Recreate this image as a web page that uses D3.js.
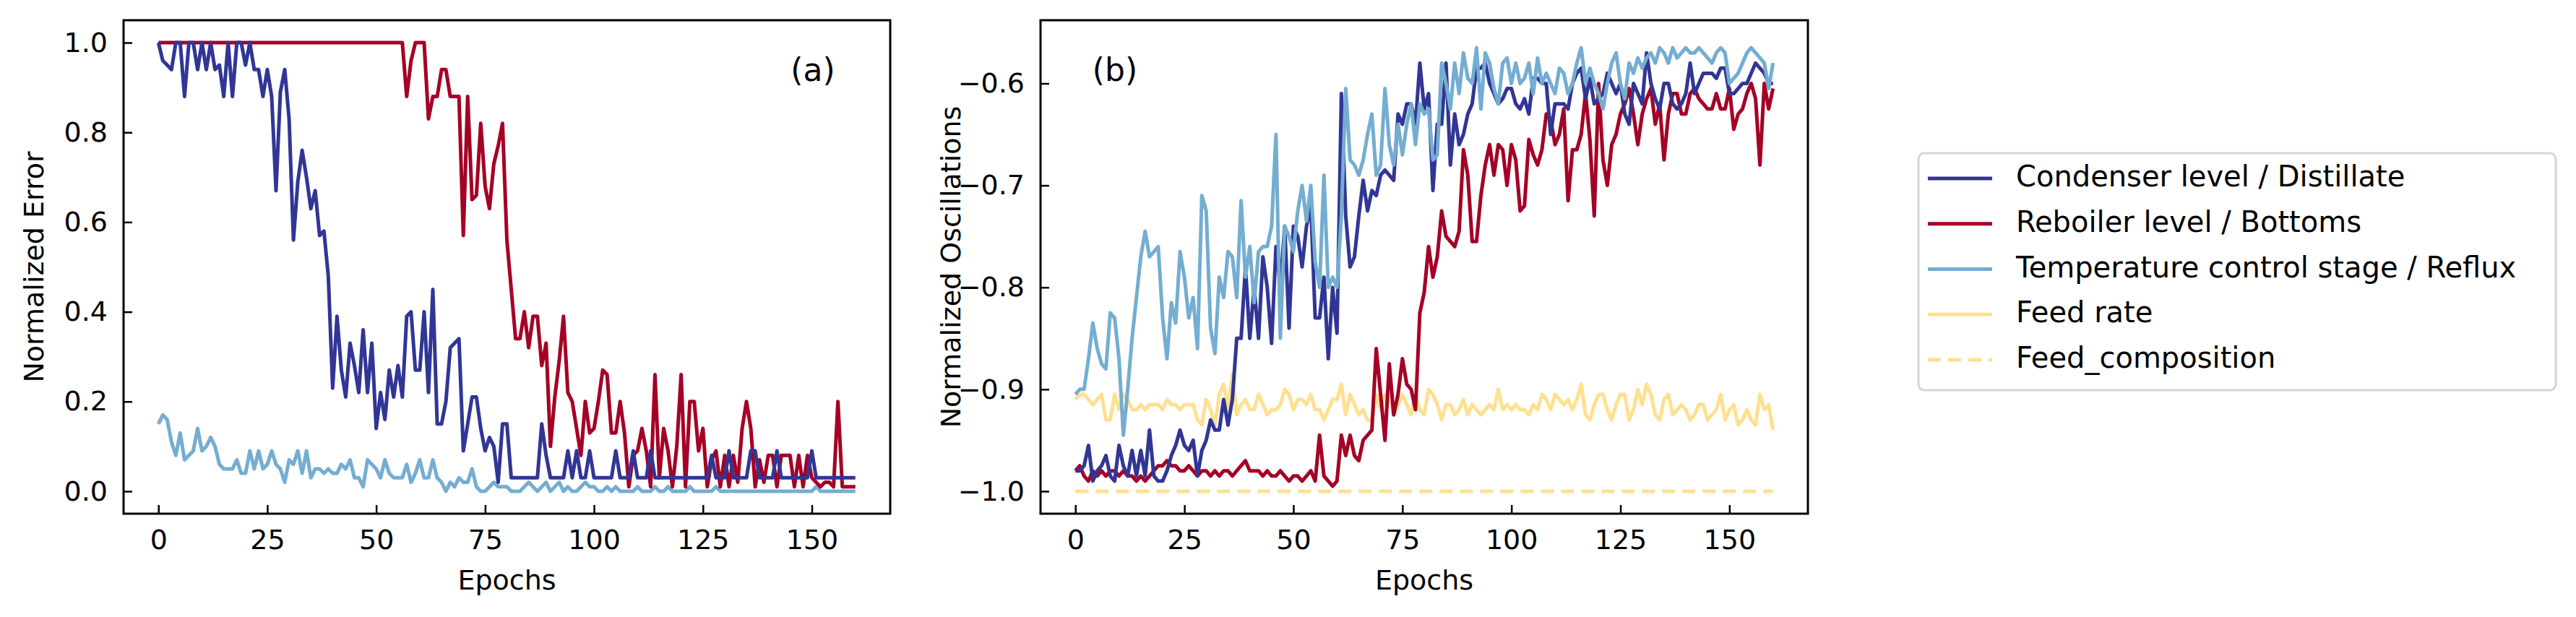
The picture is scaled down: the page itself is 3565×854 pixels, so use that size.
<!DOCTYPE html>
<html lang="en">
<head>
<meta charset="UTF-8">
<script src="https://d3js.org/d3.v7.min.js"></script>
<style>
  body { margin: 0; overflow: hidden; background: white; }
  text { font-family: "DejaVu Sans", sans-serif; fill: black; }
</style>
</head>
<body>
<script>
const width = 3565, height = 854;

const epochs = d3.range(0, 161);
const xTicks = [0, 25, 50, 75, 100, 125, 150];
const yTicksA = [0, 0.2, 0.4, 0.6, 0.8, 1.0];
const yTicksB = [-1.0, -0.9, -0.8, -0.7, -0.6];

const labels = ["Condenser level / Distillate", "Reboiler level / Bottoms",
  "Temperature control stage / Reflux", "Feed rate", "Feed_composition"];
const colors = ["#313695", "#a50026", "#74add1", "#fee090", "#fee090"];

// panel (a) normalized error
const errCondenser = [
  1.0,0.96,0.95,0.94,1.0,1.0,0.88,1.0,1.0,0.94,
  1.0,0.94,1.0,0.94,0.95,0.88,1.0,0.88,1.0,1.0,
  0.95,1.0,0.94,0.94,0.88,0.94,0.88,0.67,0.89,0.94,
  0.83,0.56,0.69,0.76,0.70,0.63,0.67,0.57,0.58,0.48,
  0.23,0.39,0.27,0.21,0.33,0.28,0.22,0.36,0.22,0.33,
  0.14,0.22,0.16,0.27,0.21,0.28,0.21,0.39,0.40,0.27,
  0.27,0.40,0.22,0.45,0.15,0.15,0.20,0.32,0.33,0.34,
  0.09,0.15,0.21,0.21,0.14,0.09,0.12,0.10,0.02,0.15,
  0.15,0.03,0.03,0.03,0.03,0.03,0.03,0.03,0.15,0.08,
  0.03,0.03,0.03,0.03,0.09,0.03,0.09,0.03,0.03,0.09,
  0.03,0.03,0.03,0.03,0.03,0.09,0.03,0.03,0.03,0.09,
  0.03,0.03,0.03,0.09,0.03,0.03,0.03,0.03,0.03,0.03,
  0.03,0.03,0.03,0.03,0.03,0.03,0.03,0.08,0.03,0.03,
  0.03,0.09,0.03,0.03,0.03,0.03,0.09,0.09,0.03,0.03,
  0.03,0.03,0.09,0.03,0.03,0.03,0.03,0.03,0.03,0.03,
  0.09,0.03,0.03,0.03,0.03,0.03,0.03,0.03,0.03,0.03,0.03];
const errReboiler = [
  1,1,1,1,1,1,1,1,1,1, 1,1,1,1,1,1,1,1,1,1,
  1,1,1,1,1,1,1,1,1,1, 1,1,1,1,1,1,1,1,1,1,
  1,1,1,1,1,1,1,1,1,1, 1,1,1,1,1,1,1.0,0.88,0.96,1.0,
  1.0,1.0,0.83,0.88,0.88,0.94,0.94,0.88,0.88,0.88,
  0.57,0.88,0.65,0.66,0.82,0.68,0.63,0.73,0.77,0.82,
  0.56,0.45,0.34,0.34,0.40,0.32,0.39,0.39,0.28,0.33,
  0.10,0.21,0.29,0.39,0.22,0.20,0.14,0.08,0.20,0.13,
  0.14,0.20,0.27,0.26,0.13,0.13,0.20,0.13,0.01,0.08,
  0.09,0.14,0.09,0.01,0.26,0.03,0.14,0.09,0.01,0.10,
  0.26,0.01,0.20,0.20,0.09,0.14,0.01,0.07,0.09,0.01,
  0.08,0.01,0.08,0.02,0.14,0.20,0.14,0.01,0.07,0.02,
  0.08,0.08,0.01,0.08,0.08,0.08,0.01,0.08,0.01,0.08,
  0.03,0.02,0.01,0.02,0.02,0.01,0.20,0.01,0.01,0.01,0.01];
const errReflux = [
  0.15,0.17,0.16,0.11,0.08,0.13,0.07,0.08,0.09,0.14,
  0.09,0.10,0.12,0.10,0.06,0.05,0.05,0.05,0.07,0.04,
  0.04,0.09,0.05,0.09,0.05,0.06,0.09,0.06,0.05,0.02,
  0.07,0.06,0.09,0.04,0.09,0.03,0.05,0.05,0.04,0.05,
  0.04,0.04,0.06,0.05,0.07,0.03,0.03,0.01,0.07,0.06,
  0.05,0.03,0.07,0.04,0.03,0.03,0.03,0.06,0.02,0.04,
  0.07,0.03,0.03,0.07,0.03,0.02,0.00,0.02,0.01,0.03,
  0.02,0.02,0.05,0.01,0.00,0.00,0.01,0.02,0.01,0.01,
  0.01,0.00,0.00,0.00,0.01,0.02,0.01,0.00,0.01,0.02,
  0.00,0.01,0.02,0.00,0.01,0.00,0.00,0.01,0.02,0.01,
  0.01,0.00,0.00,0.01,0.00,0.01,0.00,0.00,0.00,0.00,
  0.01,0.00,0.00,0.00,0.01,0.00,0.00,0.01,0.00,0.00,
  0.00,0.00,0.01,0.00,0.00,0.00,0.00,0.00,0.01,0.00,
  0.00,0.00,0.00,0.00,0.00,0.00,0.00,0.00,0.00,0.00,
  0.00,0.00,0.00,0.00,0.00,0.00,0.00,0.00,0.00,0.00,
  0.00,0.01,0.00,0.00,0.00,0.00,0.00,0.00,0.00,0.00,0.00];

// panel (b) normalized oscillations
const oscCondenser = [
  -0.98,-0.98,-0.975,-0.955,-0.99,-0.98,-0.975,-0.965,-0.985,-0.99,
  -0.955,-0.975,-0.985,-0.96,-0.985,-0.96,-0.985,-0.94,-0.985,-0.99,
  -0.99,-0.98,-0.965,-0.955,-0.94,-0.955,-0.96,-0.95,-0.985,-0.96,
  -0.95,-0.93,-0.94,-0.94,-0.91,-0.935,-0.91,-0.85,-0.85,-0.78,
  -0.85,-0.80,-0.85,-0.77,-0.80,-0.855,-0.76,-0.80,-0.74,-0.84,
  -0.74,-0.75,-0.78,-0.74,-0.72,-0.83,-0.83,-0.79,-0.87,-0.80,
  -0.845,-0.61,-0.73,-0.78,-0.77,-0.73,-0.695,-0.725,-0.705,-0.71,
  -0.69,-0.685,-0.69,-0.695,-0.63,-0.64,-0.62,-0.62,-0.64,-0.58,
  -0.625,-0.61,-0.705,-0.64,-0.64,-0.58,-0.68,-0.63,-0.66,-0.65,
  -0.63,-0.62,-0.585,-0.585,-0.58,-0.6,-0.61,-0.62,-0.615,-0.605,
  -0.605,-0.62,-0.625,-0.615,-0.63,-0.595,-0.595,-0.6,-0.6,-0.65,
  -0.62,-0.62,-0.62,-0.625,-0.6,-0.59,-0.585,-0.615,-0.595,-0.62,
  -0.615,-0.61,-0.59,-0.6,-0.61,-0.6,-0.63,-0.64,-0.60,-0.61,
  -0.62,-0.57,-0.6,-0.615,-0.625,-0.6,-0.6,-0.62,-0.625,-0.62,
  -0.61,-0.58,-0.61,-0.6,-0.59,-0.59,-0.59,-0.595,-0.585,-0.585,
  -0.61,-0.61,-0.605,-0.6,-0.6,-0.59,-0.58,-0.585,-0.59,-0.6,-0.6];
const oscReboiler = [
  -0.98,-0.975,-0.985,-0.99,-0.98,-0.985,-0.98,-0.985,-0.98,-0.98,
  -0.985,-0.98,-0.985,-0.985,-0.99,-0.985,-0.99,-0.985,-0.98,-0.975,
  -0.975,-0.97,-0.975,-0.975,-0.98,-0.98,-0.975,-0.98,-0.985,-0.98,
  -0.98,-0.985,-0.98,-0.985,-0.98,-0.98,-0.985,-0.98,-0.975,-0.97,
  -0.98,-0.98,-0.98,-0.985,-0.98,-0.985,-0.985,-0.98,-0.985,-0.99,
  -0.985,-0.985,-0.99,-0.985,-0.98,-0.99,-0.945,-0.985,-0.99,-0.995,
  -0.99,-0.945,-0.965,-0.945,-0.965,-0.97,-0.95,-0.945,-0.94,-0.86,
  -0.905,-0.95,-0.875,-0.925,-0.905,-0.87,-0.895,-0.9,-0.92,-0.825,
  -0.805,-0.76,-0.79,-0.77,-0.725,-0.75,-0.755,-0.76,-0.745,-0.665,
  -0.69,-0.755,-0.755,-0.71,-0.68,-0.66,-0.69,-0.66,-0.665,-0.7,
  -0.66,-0.675,-0.725,-0.72,-0.655,-0.67,-0.68,-0.665,-0.63,-0.635,
  -0.66,-0.65,-0.625,-0.715,-0.665,-0.665,-0.65,-0.61,-0.655,-0.73,
  -0.6,-0.675,-0.7,-0.66,-0.65,-0.63,-0.62,-0.605,-0.63,-0.66,
  -0.63,-0.615,-0.605,-0.64,-0.62,-0.675,-0.63,-0.61,-0.61,-0.63,
  -0.63,-0.61,-0.605,-0.615,-0.62,-0.625,-0.625,-0.61,-0.625,-0.625,
  -0.605,-0.645,-0.63,-0.625,-0.61,-0.6,-0.615,-0.68,-0.6,-0.625,-0.605];
const oscReflux = [
  -0.905,-0.9,-0.9,-0.87,-0.835,-0.86,-0.875,-0.88,-0.825,-0.83,
  -0.87,-0.945,-0.9,-0.85,-0.81,-0.77,-0.745,-0.77,-0.765,-0.76,
  -0.83,-0.87,-0.815,-0.835,-0.765,-0.79,-0.83,-0.81,-0.86,-0.71,
  -0.725,-0.84,-0.865,-0.79,-0.81,-0.765,-0.77,-0.81,-0.715,-0.79,
  -0.76,-0.815,-0.765,-0.76,-0.76,-0.74,-0.65,-0.85,-0.74,-0.75,
  -0.765,-0.725,-0.70,-0.735,-0.70,-0.775,-0.80,-0.69,-0.80,-0.79,
  -0.80,-0.73,-0.605,-0.675,-0.68,-0.69,-0.675,-0.65,-0.63,-0.69,
  -0.68,-0.605,-0.66,-0.68,-0.64,-0.67,-0.64,-0.62,-0.66,-0.62,
  -0.63,-0.625,-0.675,-0.67,-0.58,-0.6,-0.625,-0.58,-0.61,-0.57,
  -0.595,-0.6,-0.565,-0.625,-0.57,-0.58,-0.605,-0.62,-0.58,-0.575,
  -0.6,-0.58,-0.6,-0.595,-0.58,-0.61,-0.575,-0.6,-0.59,-0.6,
  -0.61,-0.585,-0.59,-0.61,-0.6,-0.58,-0.565,-0.6,-0.585,-0.6,
  -0.61,-0.625,-0.6,-0.58,-0.57,-0.6,-0.615,-0.58,-0.59,-0.575,
  -0.585,-0.575,-0.57,-0.58,-0.565,-0.57,-0.58,-0.565,-0.575,-0.57,
  -0.565,-0.57,-0.57,-0.565,-0.57,-0.575,-0.58,-0.57,-0.565,-0.57,
  -0.6,-0.595,-0.59,-0.58,-0.57,-0.565,-0.57,-0.575,-0.58,-0.605,-0.58];
const oscFeedRate = [
  -0.91,-0.905,-0.905,-0.91,-0.915,-0.91,-0.905,-0.93,-0.93,-0.905,
  -0.92,-0.905,-0.91,-0.92,-0.92,-0.915,-0.92,-0.915,-0.915,-0.915,
  -0.92,-0.91,-0.915,-0.915,-0.92,-0.915,-0.915,-0.915,-0.93,-0.935,
  -0.91,-0.92,-0.935,-0.905,-0.895,-0.92,-0.885,-0.925,-0.915,-0.91,
  -0.92,-0.92,-0.905,-0.915,-0.925,-0.92,-0.92,-0.915,-0.9,-0.905,
  -0.92,-0.91,-0.91,-0.915,-0.905,-0.92,-0.92,-0.93,-0.92,-0.91,
  -0.91,-0.895,-0.925,-0.905,-0.915,-0.925,-0.92,-0.93,-0.93,-0.905,
  -0.92,-0.905,-0.905,-0.925,-0.915,-0.905,-0.915,-0.925,-0.905,-0.92,
  -0.925,-0.9,-0.905,-0.915,-0.93,-0.915,-0.915,-0.925,-0.92,-0.91,
  -0.925,-0.915,-0.92,-0.925,-0.92,-0.915,-0.92,-0.9,-0.92,-0.915,
  -0.92,-0.915,-0.92,-0.92,-0.925,-0.915,-0.92,-0.905,-0.91,-0.92,
  -0.905,-0.91,-0.915,-0.91,-0.92,-0.91,-0.895,-0.925,-0.93,-0.915,
  -0.905,-0.905,-0.92,-0.93,-0.915,-0.905,-0.905,-0.93,-0.92,-0.9,
  -0.915,-0.895,-0.905,-0.925,-0.93,-0.91,-0.905,-0.925,-0.92,-0.915,
  -0.92,-0.93,-0.925,-0.915,-0.915,-0.93,-0.925,-0.92,-0.905,-0.93,
  -0.92,-0.915,-0.935,-0.93,-0.92,-0.93,-0.935,-0.905,-0.92,-0.915,-0.94];
const oscFeedComp = epochs.map(() => -1.0);

const svg = d3.select('body').append('svg')
  .attr('width', width).attr('height', height);

function panel(box, yDomain, yTicks, yFmt, yLabel, tag, tagX, series) {
  const x = d3.scaleLinear().domain([-8, 168]).range([box.l, box.r]);
  const y = d3.scaleLinear().domain(yDomain).range([box.b, box.t]);
  const g = svg.append('g');

  const line = d3.line().x((d, i) => x(epochs[i])).y(d => y(d));
  series.forEach(s => {
    g.append('path').datum(s.values)
      .attr('fill', 'none').attr('stroke', s.color)
      .attr('stroke-width', 5).attr('stroke-linejoin', 'round')
      .attr('stroke-dasharray', s.dash || null)
      .attr('d', line);
  });

  const xAxis = g.append('g').attr('transform', `translate(0,${box.b})`)
    .call(d3.axisBottom(x).tickValues(xTicks).tickSizeInner(-12).tickSizeOuter(0).tickPadding(22));
  const yAxis = g.append('g').attr('transform', `translate(${box.l},0)`)
    .call(d3.axisLeft(y).tickValues(yTicks).tickFormat(d3.format(yFmt)).tickSizeInner(-12).tickSizeOuter(0).tickPadding(22));
  [xAxis, yAxis].forEach(a => {
    a.select('.domain').remove();
    a.selectAll('line').attr('stroke', 'black').attr('stroke-width', 2.5);
    a.selectAll('text').style('font-size', '38px').style('font-family', '"DejaVu Sans", sans-serif');
  });

  g.append('rect').attr('x', box.l).attr('y', box.t)
    .attr('width', box.r - box.l).attr('height', box.b - box.t)
    .attr('fill', 'none').attr('stroke', 'black').attr('stroke-width', 3);

  g.append('text').attr('x', (box.l + box.r) / 2).attr('y', 816)
    .attr('text-anchor', 'middle').style('font-size', '38px').text('Epochs');
  g.append('text')
    .attr('transform', `translate(${box.l - 122},${(box.t + box.b) / 2}) rotate(-90)`)
    .attr('text-anchor', 'middle').attr('dominant-baseline', 'middle')
    .style('font-size', '38px').text(yLabel);
  g.append('text').attr('x', tagX).attr('y', 112)
    .attr('text-anchor', 'middle').style('font-size', '44px').text(tag);
}

panel({l: 171, r: 1232, t: 28, b: 711}, [-0.05, 1.05], yTicksA, '.1f',
  'Normalized Error', '(a)', 1125, [
    {values: errReflux, color: colors[2]},
    {values: errReboiler, color: colors[1]},
    {values: errCondenser, color: colors[0]}
  ]);

panel({l: 1440, r: 2502, t: 28, b: 711}, [-1.022, -0.538], yTicksB, '.1f',
  'Normalized Oscillations', '(b)', 1543, [
    {values: oscFeedComp, color: colors[4], dash: '18,10'},
    {values: oscFeedRate, color: colors[3]},
    {values: oscReboiler, color: colors[1]},
    {values: oscCondenser, color: colors[0]},
    {values: oscReflux, color: colors[2]}
  ]);

// legend
const legend = svg.append('g');
legend.append('rect').attr('x', 2655).attr('y', 212)
  .attr('width', 882).attr('height', 328).attr('rx', 8)
  .attr('fill', 'white').attr('stroke', '#d6d6d6').attr('stroke-width', 3);
const rowY = d3.scalePoint().domain(labels).range([247, 498]);
labels.forEach((lab, i) => {
  legend.append('line').attr('x1', 2668).attr('x2', 2757)
    .attr('y1', rowY(lab)).attr('y2', rowY(lab))
    .attr('stroke', colors[i]).attr('stroke-width', 5)
    .attr('stroke-dasharray', i === 4 ? '18,10' : null);
  legend.append('text').attr('x', 2790).attr('y', rowY(lab))
    .attr('dominant-baseline', 'middle').style('font-size', '40px').text(lab);
});
</script>
</body>
</html>
